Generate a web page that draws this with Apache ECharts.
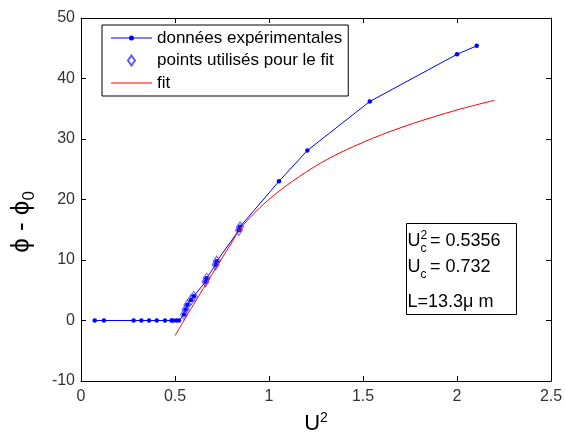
<!DOCTYPE html>
<html>
<head>
<meta charset="utf-8">
<script src="https://cdn.jsdelivr.net/npm/echarts@6/dist/echarts.min.js"></script>
<style>
  html, body { margin: 0; padding: 0; background: #fff; }
  #chart { width: 565px; height: 434px; }
</style>
</head>
<body>
<div id="chart"></div>
<script>
// Measured phase shift versus U^2
const expU2 = [0.073, 0.122, 0.280, 0.321, 0.362, 0.403, 0.447, 0.481, 0.489, 0.507, 0.521,
               0.548, 0.556, 0.566, 0.585, 0.600, 0.662, 0.668, 0.716, 0.722, 0.840, 0.846,
               1.053, 1.204, 1.536, 2.000, 2.105];
const expPhi = [0, 0, 0, 0, 0, 0, 0, 0, 0, 0, 0,
                1.0, 1.8, 2.6, 3.4, 4.0, 6.4, 7.0, 9.2, 9.8, 14.9, 15.5,
                23.0, 28.1, 36.2, 44.0, 45.4];

// Subset of points used for the fit
const usedU2 = [0.548, 0.556, 0.566, 0.585, 0.600, 0.662, 0.668, 0.716, 0.722, 0.840, 0.846];
const usedPhi = [1.0, 1.8, 2.6, 3.4, 4.0, 6.4, 7.0, 9.2, 9.8, 14.9, 15.5];

// Fitted curve
const fitU2 = [0.50, 0.54, 0.60, 0.70, 0.80, 0.85, 0.95, 1.05, 1.20, 1.35, 1.55, 1.75, 2.00, 2.20];
const fitPhi = [-2.5, -0.4, 2.7, 7.8, 12.8, 15.3, 18.6, 21.3, 24.6, 27.3, 30.1, 32.4, 34.8, 36.4];

// Axis ticks
const xTicks = [0, 0.5, 1, 1.5, 2, 2.5];
const yTicks = [-10, 0, 10, 20, 30, 40, 50];

// Fit results
const resultLines = { uc2: '= 0.5356', uc: '= 0.732', len: 'L=13.3\u03bc m' };

const zip = (xs, ys) => xs.map((x, i) => [x, ys[i]]);
const FONT = 'Liberation Sans, Arial, sans-serif';

const chart = echarts.init(document.getElementById('chart'), null, { renderer: 'canvas' });

const xBase = {
  type: 'value',
  min: xTicks[0],
  max: xTicks[xTicks.length - 1],
  interval: xTicks[1] - xTicks[0],
  axisLine: { show: true, onZero: false, lineStyle: { color: '#000', width: 1 } },
  axisTick: { show: true, inside: true, length: 5, lineStyle: { color: '#000' } },
  splitLine: { show: false }
};
const yBase = {
  type: 'value',
  min: yTicks[0],
  max: yTicks[yTicks.length - 1],
  interval: yTicks[1] - yTicks[0],
  axisLine: { show: true, onZero: false, lineStyle: { color: '#000', width: 1 } },
  axisTick: { show: true, inside: true, length: 5, lineStyle: { color: '#000' } },
  splitLine: { show: false }
};

// Legend glyphs: line with a dot, hollow diamond, plain line
const ICON_LINE_DOT = 'path://M0,4.5H41V5.5H0Z M18,5a2.5,2.5 0 1,1 5,0a2.5,2.5 0 1,1 -5,0Z';
const ICON_DIAMOND = 'path://M3.5,0L7,5L3.5,10L0,5Z';
const ICON_LINE = 'path://M0,0H41V1H0Z';

chart.setOption({
  animation: false,
  backgroundColor: '#fff',
  grid: { left: 81, right: 14, top: 18, bottom: 53, containLabel: false, outerBoundsMode: 'none' },
  xAxis: [
    Object.assign({}, xBase, {
      position: 'bottom',
      axisLabel: { show: true, color: '#333', fontSize: 16, fontFamily: FONT, margin: 8 },
      name: '{a|U}{b|2}',
      nameLocation: 'middle',
      nameGap: 30,
      nameTextStyle: {
        rich: {
          a: { fontSize: 22, fontFamily: FONT, color: '#000', lineHeight: 26 },
          b: { fontSize: 14, fontFamily: FONT, color: '#000', verticalAlign: 'top', lineHeight: 26 }
        }
      }
    }),
    Object.assign({}, xBase, { position: 'top', axisLabel: { show: false } })
  ],
  yAxis: [
    Object.assign({}, yBase, {
      position: 'left',
      axisLabel: { show: true, color: '#333', fontSize: 16, fontFamily: FONT, margin: 6 }
    }),
    Object.assign({}, yBase, { position: 'right', axisLabel: { show: false } })
  ],
  legend: {
    orient: 'vertical',
    left: 102,
    top: 25,
    itemWidth: 41,
    itemHeight: 10,
    itemGap: 4.5,
    padding: [4, 6, 4, 9],
    borderColor: '#000',
    borderWidth: 1,
    backgroundColor: '#fff',
    symbolKeepAspect: true,
    textStyle: { fontSize: 17, fontFamily: FONT, color: '#000', lineHeight: 18 },
    data: [
      { name: 'données expérimentales', icon: ICON_LINE_DOT },
      { name: 'points utilisés pour le fit', icon: ICON_DIAMOND },
      { name: 'fit', icon: ICON_LINE }
    ]
  },
  series: [
    {
      name: 'données expérimentales',
      type: 'line',
      data: zip(expU2, expPhi),
      symbol: 'circle',
      symbolSize: 4.5,
      lineStyle: { color: '#0000ff', width: 1 },
      itemStyle: { color: '#0000ff' },
      z: 3
    },
    {
      name: 'points utilisés pour le fit',
      type: 'scatter',
      data: zip(usedU2, usedPhi),
      symbol: 'diamond',
      symbolSize: [7, 10],
      itemStyle: { color: 'rgba(255,255,255,0)', borderColor: '#3333ff', borderWidth: 1 },
      z: 4
    },
    {
      name: 'fit',
      type: 'line',
      data: zip(fitU2, fitPhi),
      symbol: 'none',
      smooth: 0.3,
      lineStyle: { color: '#ff0000', width: 1 },
      itemStyle: { color: '#ff0000' },
      z: 5
    }
  ],
  graphic: [
    {
      type: 'text',
      x: 22,
      y: 222,
      rotation: Math.PI / 2,
      style: {
        text: '{a|\u03d5 - \u03d5}{b|0}',
        align: 'center',
        verticalAlign: 'middle',
        rich: {
          a: { fontSize: 26, fontFamily: FONT, fill: '#000', lineHeight: 32 },
          b: { fontSize: 17, fontFamily: FONT, fill: '#000', verticalAlign: 'bottom', lineHeight: 32 }
        }
      },
      z: 10
    },
    {
      type: 'rect',
      shape: { x: 406.5, y: 223.5, width: 110, height: 91 },
      style: { fill: '#fff', stroke: '#000', lineWidth: 1 },
      z: 10
    },
    { type: 'text', style: { x: 407.5, y: 232, text: 'U', font: '18px ' + FONT, fill: '#000' }, z: 11 },
    { type: 'text', style: { x: 420.5, y: 230, text: '2', font: '12px ' + FONT, fill: '#000' }, z: 11 },
    { type: 'text', style: { x: 420.5, y: 243, text: 'c', font: '12px ' + FONT, fill: '#000' }, z: 11 },
    { type: 'text', style: { x: 430, y: 232, text: resultLines.uc2, font: '18px ' + FONT, fill: '#000' }, z: 11 },
    { type: 'text', style: { x: 407.5, y: 258, text: 'U', font: '18px ' + FONT, fill: '#000' }, z: 11 },
    { type: 'text', style: { x: 420.5, y: 269, text: 'c', font: '12px ' + FONT, fill: '#000' }, z: 11 },
    { type: 'text', style: { x: 430, y: 258, text: resultLines.uc, font: '18px ' + FONT, fill: '#000' }, z: 11 },
    { type: 'text', style: { x: 407.5, y: 293, text: resultLines.len, font: '18px ' + FONT, fill: '#000' }, z: 11 }
  ]
});
</script>
</body>
</html>
